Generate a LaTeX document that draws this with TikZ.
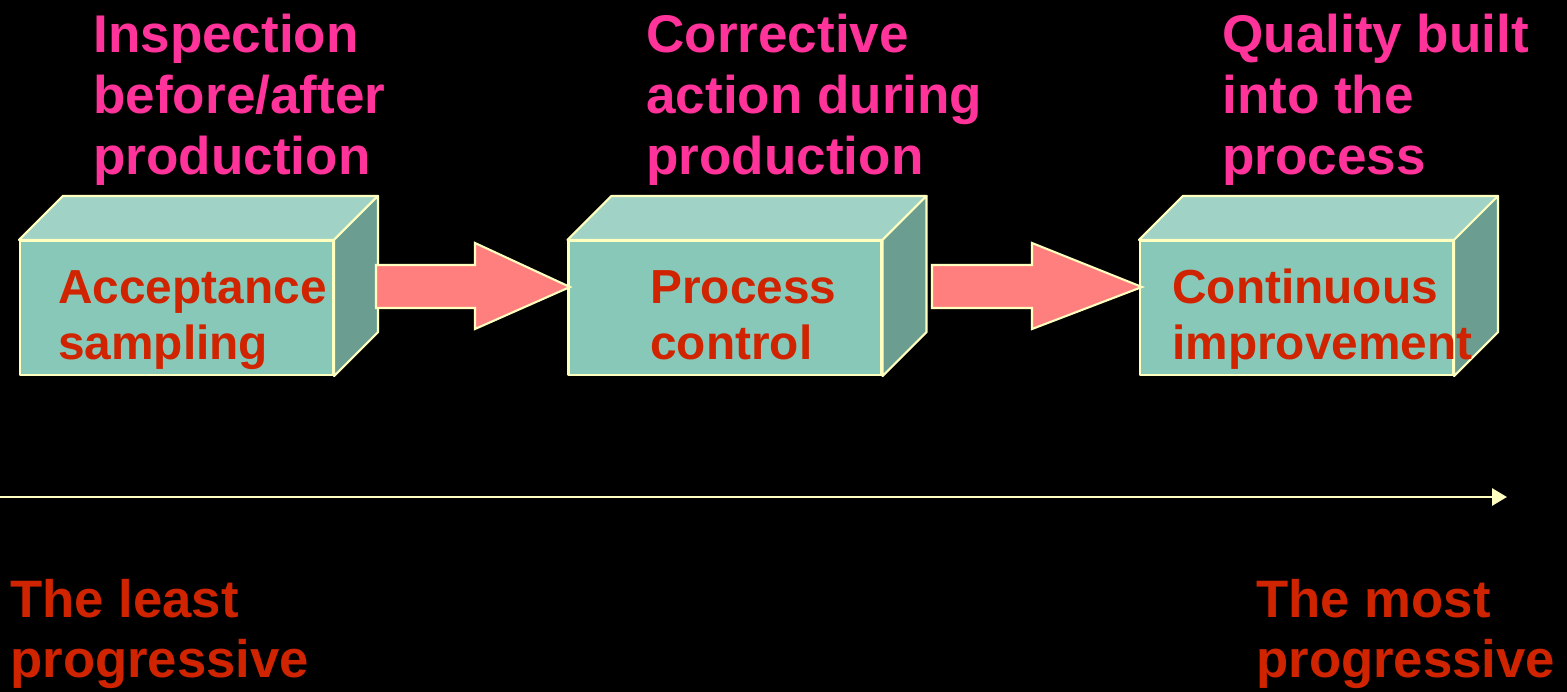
\documentclass[tikz,border=0pt]{standalone}
\usepackage{fontspec}
\setmainfont{Liberation Sans}
\usetikzlibrary{arrows.meta}
\definecolor{frontc}{HTML}{88C8B8}
\definecolor{topc}{HTML}{A0D2C6}
\definecolor{sidec}{HTML}{6B9E90}
\definecolor{edgec}{HTML}{FFFFC0}
\definecolor{redtxt}{HTML}{D02400}
\definecolor{pinktxt}{HTML}{FF3399}
\definecolor{arrowc}{HTML}{FF7F7F}
\tikzset{
  x=0.02cm, y=-0.02cm,
  frontface/.style={draw=edgec, line width=1.2pt, fill=frontc, minimum width=6.26cm, minimum height=2.68cm, inner sep=0pt, line join=round},
  topface/.style={draw=edgec, line width=1.2pt, fill=topc, line join=round},
  sideface/.style={draw=edgec, line width=1.2pt, fill=sidec, line join=round},
  fatarrow/.style={draw=edgec, line width=1.2pt, fill=arrowc, line join=miter},
  headtxt/.style={anchor=base west, inner sep=0pt, text=pinktxt, font=\bfseries\fontsize{30.2}{34.6}\selectfont},
  boxtxt/.style={anchor=base west, inner sep=0pt, text=redtxt, font=\bfseries\fontsize{27.2}{32.4}\selectfont},
  endtxt/.style={anchor=base west, inner sep=0pt, text=redtxt, font=\bfseries\fontsize{30}{34.2}\selectfont},
  axisline/.style={draw=edgec, line width=1.6pt, -{Triangle[length=15*0.02cm, width=17*0.02cm]}}
}
\newcommand{\cuboid}[2]{%
  \node[frontface] (#1) at (#2) {};
  \draw[topface] (#1.north west) -- ++(44,-44) -- ([shift={(44,-44)}]#1.north east) -- (#1.north east) -- cycle;
  \draw[sideface] (#1.north east) -- ++(44,-44) -- ([shift={(44,-44)}]#1.south east) -- (#1.south east) -- cycle;
}
\begin{document}
\begin{tikzpicture}
\useasboundingbox (0,0) rectangle (1567,692);
\fill[black] (0,0) rectangle (1567,692);

\cuboid{b1}{176.5,308}
\cuboid{b2}{725,308}
\cuboid{b3}{1296.5,308}

\draw[fatarrow] (376,265) -- (475,265) -- (475,243) -- (570,287) -- (475,329) -- (475,308) -- (376,308) -- cycle;
\draw[fatarrow] (932,265) -- (1032,265) -- (1032,243) -- (1142,287) -- (1032,329) -- (1032,308) -- (932,308) -- cycle;

\node[boxtxt] (t1) at (58,303) {\parbox[t]{10cm}{Acceptance\\sampling}};
\node[boxtxt] (t2) at (650,303) {\parbox[t]{10cm}{Process\\control}};
\node[boxtxt] (t3) at (1172,303) {\parbox[t]{10cm}{Continuous\\improvement}};

\node[headtxt] (h1) at (93,53) {\parbox[t]{12cm}{Inspection\\before/after\\production}};
\node[headtxt] (h2) at (646,53) {\parbox[t]{12cm}{Corrective\\action during\\production}};
\node[headtxt] (h3) at (1222,53) {\parbox[t]{12cm}{Quality built\\into the\\process}};

\coordinate (axs) at (0,497);
\coordinate (axe) at (1507,497);
\draw[axisline] (axs) -- (axe);

\node[endtxt] (e1) at (10,617) {\parbox[t]{12cm}{The least\\progressive}};
\node[endtxt] (e2) at (1256,617) {\parbox[t]{12cm}{The most\\progressive}};
\end{tikzpicture}
\end{document}
